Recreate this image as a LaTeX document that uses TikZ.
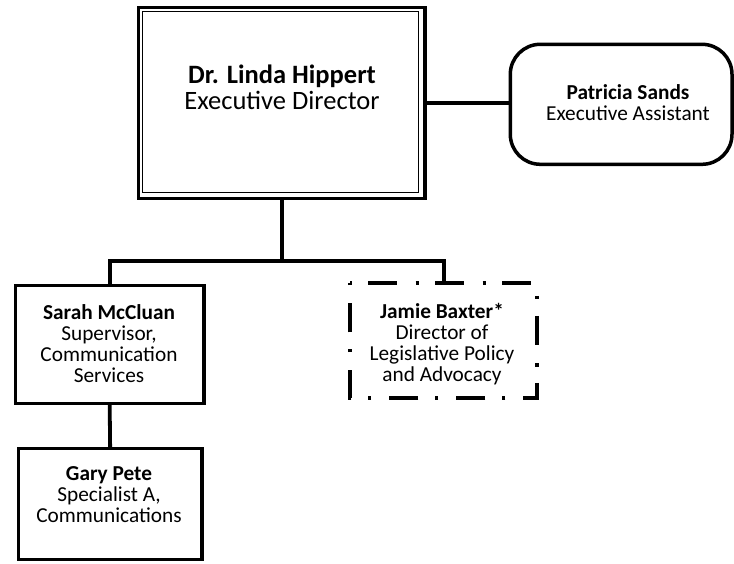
\documentclass[tikz,border=0pt]{standalone}
\usepackage{fontspec}
\setmainfont{Carlito}
\begin{document}
\begin{tikzpicture}[x=1pt,y=-1pt,
  box/.style={draw=black,line width=3.5pt,rectangle,inner sep=0pt,outer sep=0pt},
  conn/.style={draw=black,line width=3.8pt,line join=miter},
  bigtxt/.style={align=center,inner sep=0pt,font=\fontsize{26.5}{26.5}\selectfont},
  smalltxt/.style={align=center,inner sep=0pt,font=\fontsize{21.3}{21}\selectfont}]
\useasboundingbox[fill=white] (0,0) rectangle (734,563);
% main double box
\node[box,line width=3.3pt,minimum width=286.7pt,minimum height=191pt] (M) at (281.65,102.8) {};
\node[draw=black,line width=1.3pt,rectangle,inner sep=0pt,minimum width=276.1pt,minimum height=180.8pt] (Mi) at (280.75,102.1) {};
\node[bigtxt] (Mt) at (282,87.5) {\textbf{Dr. Linda Hippert}\\Executive Director};
% assistant
\node[box,rounded corners=30pt,minimum width=221.7pt,minimum height=120pt] (P) at (621.15,104.3) {};
\node[smalltxt] (Pt) at (628,102.5) {\textbf{Patricia Sands}\\Executive Assistant};
% Sarah
\node[box,minimum width=188.7pt,minimum height=118pt] (S) at (109.65,344.3) {};
\node[smalltxt] (St) at (109,343.5) {\textbf{Sarah McCluan}\\Supervisor,\\Communication\\Services};
% Gary
\node[box,minimum width=183.7pt,minimum height=111.2pt] (G) at (110.15,503.9) {};
\node[smalltxt] (Gt) at (109,495) {\textbf{Gary Pete}\\Specialist A,\\Communications};
% Jamie
\node[rectangle,inner sep=0pt,outer sep=0pt,minimum width=186.7pt,minimum height=115pt] (J) at (443.65,340.8) {};
\draw[line width=3.8pt,line cap=butt,dash pattern=on 3.5pt off 16.3pt on 29pt off 18.24pt,dash phase=1.75pt]
  (J.north west) -- (J.north east) -- (J.south east) -- (J.south west) -- cycle;
\node[smalltxt] (Jt) at (442,344) {\textbf{Jamie Baxter*}\\Director of\\Legislative Policy\\and Advocacy};
% connectors
\coordinate (bus) at (281.65,261.3);
\draw[conn] (M.east) -- (M.east -| P.west);
\draw[conn] (M.south) -- (bus);
\draw[conn] (S.north) |- (bus) -| (J.north);
\draw[conn] (S.south) -- (G.north);
\end{tikzpicture}
\end{document}
